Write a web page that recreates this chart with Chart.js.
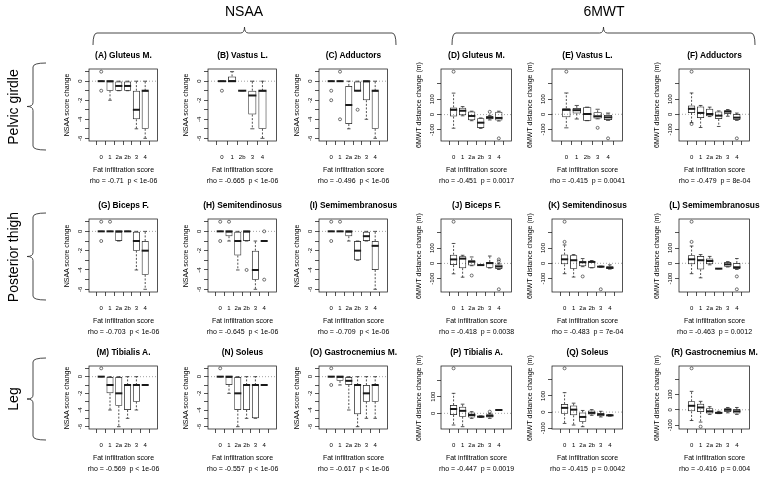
<!DOCTYPE html>
<html>
<head>
<meta charset="utf-8">
<title>Fat infiltration score vs NSAA / 6MWT change</title>
<script src="https://cdn.jsdelivr.net/npm/chart.js@4.4.1/dist/chart.umd.min.js"></script>
<style>
  body { margin: 0; background: #fff; }
  #fig { position: relative; width: 760px; height: 480px; overflow: hidden; background: #fff;
         font-family: "Liberation Sans", Arial, Helvetica, sans-serif; color: #000; }
  #fig canvas { position: absolute; }
  #decor { position: absolute; left: 0; top: 0; }
  .lbl { position: absolute; white-space: pre; line-height: 1; transform: translate(-50%, -50%); }
  .rot { transform: translate(-50%, -50%) rotate(-90deg); }
  .main { font-size: 8.4px; font-weight: bold; }
  .axt { font-size: 7px; }
  .head { font-size: 14px; }
</style>
</head>
<body>
<div id="fig">
  <svg id="decor" width="760" height="480"></svg>
</div>
<script>
var INK = '#1a1a1a';
var FONT = '"Liberation Sans", Arial, Helvetica, sans-serif';

// fat infiltration scores on the x axis
var scoresAll = ['0', '1', '2a', '2b', '3', '4'];
var scoresNo2a = ['0', '1', '2b', '3', '4'];

// each row is one score: [lower whisker, Q1, median, Q3, upper whisker]
// NSAA, pelvic girdle
var nsaaGluteus = [[0,0,0,0,0], [-2,-1,0,0,0], [-1,-1,-0.5,0,0], [-1,-1,-0.5,0,0], [-5,-4,-3,-1,0], [-6,-5,-1,-1,0]];
var nsaaGluteusOut = [[1,-1], [], [], [], [], []];
var nsaaVastus = [[0,0,0,0,0], [0,0,0,0.5,1], [-1,-1,-1,-1,-1], [-5,-3.5,-1.5,-1,0], [-6,-5,-1,-1,0]];
var nsaaVastusOut = [[-1], [], [], [], []];
var nsaaAdductors = [[0,0,0,0,0], [0,0,0,0,0], [-5,-4.5,-2.5,-0.5,0], [-1,-1,-1,0,0], [-4,-2,0,0,0], [-6,-5,-1,-1,0]];
var nsaaAdductorsOut = [[-1,-2], [1,-4], [], [-3], [], []];

// 6MWT, pelvic girdle
var mwtGluteus = [[-89,-13,31,47,140], [-8,-5,25,45,52], [-40,-37,-9,20,22], [-90,-87,-53,-24,-22], [-35,-31,-20,-9,-5], [-42,-38,-22,18,22]];
var mwtGluteusOut = [[280], [], [], [], [18], [-155]];
var mwtVastus = [[-89,-20,29,40,140], [-31,5,27,42,58], [-42,-42,2,47,47], [-30,-27,-13,13,33], [-40,-38,-20,-4,8]];
var mwtVastusOut = [[280], [], [], [-89], [-158]];
var mwtAdductors = [[-55,9,36,58,140], [-87,-24,9,51,58], [-15,-13,2,36,47], [-80,-31,-9,18,22], [-13,2,18,27,31], [-40,-38,-22,2,8]];
var mwtAdductorsOut = [[280,-64], [], [], [], [], [-158]];

// NSAA, posterior thigh
var nsaaBiceps = [[0,0,0,0,0], [0,0,0,0,0], [-1,-1,0,0,0], [0,0,0,0,0], [-4,-2,-1,0,0], [-6,-4.5,-2,-1,0]];
var nsaaBicepsOut = [[1,-1], [1], [], [], [], []];
var nsaaSemiten = [[0,0,0,0,0], [-1,-0.5,0,0,0], [-4,-2.5,-1,0,0], [-1,-1,0,0,0], [-6,-5,-4,-2,-1], [-1,-1,-1,-1,-1]];
var nsaaSemitenOut = [[1,-1], [1], [], [-4], [], [0,-5]];
var nsaaSemimem = [[0,0,0,0,0], [0,0,0,0,0], [-1,-0.5,0,0,0], [-3,-3,-2,-1,-1], [-1,-1,-0.5,0,0], [-6,-4,-1.5,-1,0]];
var nsaaSemimemOut = [[1,-1], [1], [], [], [], []];

// 6MWT, posterior thigh
var mwtBiceps = [[-68,-11,26,57,130], [-90,-31,31,46,53], [-15,-13,11,20,42], [-11,-11,-11,-11,-11], [-30,-29,2,9,48], [-40,-37,-20,-7,-2]];
var mwtBicepsOut = [[272], [], [-79], [], [], [26,13,-169]];
var mwtSemiten = [[-68,-7,26,57,120], [-90,-35,20,53,57], [-22,-20,7,13,31], [-30,-29,9,13,18], [-26,-26,-22,-18,-18], [-38,-37,-29,-20,-10]];
var mwtSemitenOut = [[272,140], [], [-86], [], [-170], []];
var mwtSemimem = [[-68,-7,26,53,113], [-95,-40,20,48,57], [-10,-7,15,31,45], [-35,-35,-35,-35,-35], [-24,-22,-7,9,11], [-40,-37,-26,2,31]];
var mwtSemimemOut = [[272,140], [], [], [], [], [-86,-170]];

// NSAA, leg
var nsaaTibialis = [[0,0,0,0,0], [-4,-2,-1,0,0], [-6,-3.5,-2,0,0], [-5,-4,-1,-1,0], [-4,-3,-1,-1,0], [-1,-1,-1,-1,-1]];
var nsaaTibialisOut = [[1], [], [], [], [], []];
var nsaaSoleus = [[0,0,0,0,0], [-2,-1,0,0,0], [-6,-4,-2,0,0], [-5,-4,-1,-1,0], [-5,-5,-1,-1,0], [-1,-1,-1,-1,-1]];
var nsaaSoleusOut = [[1], [], [], [], [], []];
var nsaaGastroc = [[0,0,0,0,0], [-1,-0.5,0,0,0], [-4,-1,-0.5,0,0], [-6,-4.5,-1,-1,0], [-5,-3,-2,-1,0], [-5,-3,-1,-1,0]];
var nsaaGastrocOut = [[1,-1], [], [], [], [], []];

// 6MWT, leg
var mwtTibialis = [[-70,-10,26,50,120], [-80,-20,15,40,55], [-30,-25,-10,5,10], [-25,-25,-20,-15,-15], [-30,-25,-15,-5,0], [20,20,20,20,20]];
var mwtTibialisOut = [[270], [], [], [], [10], []];
var mwtSoleus = [[-70,-10,26,50,120], [-80,-20,15,40,55], [-90,-60,-30,0,10], [-20,-15,-5,10,15], [-30,-25,-15,-5,5], [-25,-25,-20,-15,-15]];
var mwtSoleusOut = [[270], [], [], [], [], []];
var mwtGastroc = [[-70,-10,26,55,120], [-80,-15,15,40,55], [-30,-25,-10,10,20], [-25,-25,-20,-15,-10], [-20,-15,0,10,15], [-30,-25,-10,5,15]];
var mwtGastrocOut = [[270], [-110], [], [], [], []];

// panel table, row by row (A..R)
var panels = [
  {name: '(A) Gluteus M.', test: 'nsaa', cats: scoresAll, box: nsaaGluteus, out: nsaaGluteusOut, stats: 'rho = -0.71  p < 1e-06'},
  {name: '(B) Vastus L.', test: 'nsaa', cats: scoresNo2a, box: nsaaVastus, out: nsaaVastusOut, stats: 'rho = -0.665  p < 1e-06'},
  {name: '(C) Adductors', test: 'nsaa', cats: scoresAll, box: nsaaAdductors, out: nsaaAdductorsOut, stats: 'rho = -0.496  p < 1e-06'},
  {name: '(D) Gluteus M.', test: 'mwt', cats: scoresAll, box: mwtGluteus, out: mwtGluteusOut, stats: 'rho = -0.451  p = 0.0017'},
  {name: '(E) Vastus L.', test: 'mwt', cats: scoresNo2a, box: mwtVastus, out: mwtVastusOut, stats: 'rho = -0.415  p = 0.0041'},
  {name: '(F) Adductors', test: 'mwt', cats: scoresAll, box: mwtAdductors, out: mwtAdductorsOut, stats: 'rho = -0.479  p = 8e-04'},
  {name: '(G) Biceps F.', test: 'nsaa', cats: scoresAll, box: nsaaBiceps, out: nsaaBicepsOut, stats: 'rho = -0.703  p < 1e-06'},
  {name: '(H) Semitendinosus', test: 'nsaa', cats: scoresAll, box: nsaaSemiten, out: nsaaSemitenOut, stats: 'rho = -0.645  p < 1e-06'},
  {name: '(I) Semimembranosus', test: 'nsaa', cats: scoresAll, box: nsaaSemimem, out: nsaaSemimemOut, stats: 'rho = -0.709  p < 1e-06'},
  {name: '(J) Biceps F.', test: 'mwt', cats: scoresAll, box: mwtBiceps, out: mwtBicepsOut, stats: 'rho = -0.418  p = 0.0038'},
  {name: '(K) Semitendinosus', test: 'mwt', cats: scoresAll, box: mwtSemiten, out: mwtSemitenOut, stats: 'rho = -0.483  p = 7e-04'},
  {name: '(L) Semimembranosus', test: 'mwt', cats: scoresAll, box: mwtSemimem, out: mwtSemimemOut, stats: 'rho = -0.463  p = 0.0012'},
  {name: '(M) Tibialis A.', test: 'nsaa', cats: scoresAll, box: nsaaTibialis, out: nsaaTibialisOut, stats: 'rho = -0.569  p < 1e-06'},
  {name: '(N) Soleus', test: 'nsaa', cats: scoresAll, box: nsaaSoleus, out: nsaaSoleusOut, stats: 'rho = -0.557  p < 1e-06'},
  {name: '(O) Gastrocnemius M.', test: 'nsaa', cats: scoresAll, box: nsaaGastroc, out: nsaaGastrocOut, stats: 'rho = -0.617  p < 1e-06'},
  {name: '(P) Tibialis A.', test: 'mwt', cats: scoresAll, box: mwtTibialis, out: mwtTibialisOut, stats: 'rho = -0.447  p = 0.0019'},
  {name: '(Q) Soleus', test: 'mwt', cats: scoresAll, box: mwtSoleus, out: mwtSoleusOut, stats: 'rho = -0.415  p = 0.0042'},
  {name: '(R) Gastrocnemius M.', test: 'mwt', cats: scoresAll, box: mwtGastroc, out: mwtGastrocOut, stats: 'rho = -0.416  p = 0.004'}
];

var yTitles = {nsaa: 'NSAA score change', mwt: '6MWT distance change (m)'};

// page geometry (plot boxes)
var colLeft = [89, 208, 319, 441, 552, 679];
var colWidth = [69, 69, 69, 71, 71, 71];
var rowTop = [69, 219, 366];
var rowHeight = [72, 73, 63];
var AXIS_W = 22, XAXIS_H = 24, PAD_T = 10, PAD_R = 4;
var TICK_LEN = 4;

var fig = document.getElementById('fig');
var measureCtx = document.createElement('canvas').getContext('2d');

function addText(txt, x, y, cls) {
  var d = document.createElement('div');
  d.className = 'lbl ' + cls;
  d.textContent = txt;
  d.style.left = x + 'px';
  d.style.top = y + 'px';
  fig.appendChild(d);
}

// R style boxplot pieces drawn round the floating bars
var boxplotPlugin = {
  id: 'boxplot',
  beforeDatasetsDraw: function(chart) {
    var ctx = chart.ctx, a = chart.chartArea;
    var y0 = chart.scales.y.getPixelForValue(0);
    ctx.save();
    ctx.strokeStyle = '#8c8c8c';
    ctx.lineWidth = 0.8;
    ctx.setLineDash([1, 2]);
    ctx.beginPath();
    ctx.moveTo(a.left, y0);
    ctx.lineTo(a.right, y0);
    ctx.stroke();
    ctx.restore();
  },
  afterDatasetsDraw: function(chart) {
    var ctx = chart.ctx, a = chart.chartArea, ys = chart.scales.y;
    var ds = chart.data.datasets[1];
    var meta = chart.getDatasetMeta(1);

    function seg(x1, y1, x2, y2) {
      ctx.beginPath();
      ctx.moveTo(x1, y1);
      ctx.lineTo(x2, y2);
      ctx.stroke();
    }

    ctx.save();
    ctx.strokeStyle = INK;
    meta.data.forEach(function(bar, i) {
      var b = ds.stats[i];
      var half = bar.width / 2, cap = bar.width / 4;
      var yLo = ys.getPixelForValue(b[0]), yQ1 = ys.getPixelForValue(b[1]);
      var yMed = ys.getPixelForValue(b[2]);
      var yQ3 = ys.getPixelForValue(b[3]), yHi = ys.getPixelForValue(b[4]);

      // dashed whiskers, solid staples
      ctx.lineWidth = 0.75;
      ctx.setLineDash([2, 1.6]);
      if (b[0] < b[1]) seg(bar.x, yQ1, bar.x, yLo);
      if (b[4] > b[3]) seg(bar.x, yQ3, bar.x, yHi);
      ctx.setLineDash([]);
      seg(bar.x - cap, yLo, bar.x + cap, yLo);
      seg(bar.x - cap, yHi, bar.x + cap, yHi);

      // thick median
      ctx.lineWidth = 2;
      seg(bar.x - half, yMed, bar.x + half, yMed);
    });
    // frame round the plot region
    ctx.lineWidth = 0.75;
    ctx.strokeRect(a.left, a.top, a.right - a.left, a.bottom - a.top);
    ctx.restore();
  }
};

function buildPanel(p, idx) {
  var row = Math.floor(idx / 6), col = idx % 6;
  var left = colLeft[col], top = rowTop[row], w = colWidth[col], h = rowHeight[row];
  var n = p.cats.length;

  var canvas = document.createElement('canvas');
  canvas.width = AXIS_W + w + PAD_R;
  canvas.height = PAD_T + h + XAXIS_H;
  canvas.style.left = (left - AXIS_W) + 'px';
  canvas.style.top = (top - PAD_T) + 'px';
  fig.appendChild(canvas);

  var boxPts = p.box.map(function(b, i) { return {x: i + 1, y: [b[1], b[3]]}; });
  var outPts = [];
  p.out.forEach(function(vals, i) {
    vals.forEach(function(v) { outPts.push({x: i + 1, y: v}); });
  });

  // R default: data range widened by 4 %
  var all = [];
  p.box.forEach(function(b) { all = all.concat(b); });
  p.out.forEach(function(o) { all = all.concat(o); });
  var lo = Math.min.apply(null, all), hi = Math.max.apply(null, all);
  var pad = (hi - lo) * 0.04;

  var isNsaa = p.test === 'nsaa';
  var step = isNsaa ? 1 : 100;
  var yLabels = isNsaa ? ['0', '-2', '-4', '-6'] : ['-100', '0', '100'];
  var tickFont = {family: FONT, size: 6};
  measureCtx.font = '6px ' + FONT;
  var widest = Math.max.apply(null, yLabels.map(function(t) { return measureCtx.measureText(t).width; }));

  new Chart(canvas.getContext('2d'), {
    type: 'bar',
    data: {
      datasets: [{
        type: 'line',
        data: outPts,
        showLine: false,
        clip: false,
        pointRadius: 1.5,
        pointBorderWidth: 0.6,
        pointBorderColor: INK,
        pointBackgroundColor: 'rgba(0,0,0,0)'
      }, {
        type: 'bar',
        data: boxPts,
        stats: p.box,
        grouped: false,
        backgroundColor: 'rgba(0,0,0,0)',
        borderColor: INK,
        borderWidth: 0.75,
        borderSkipped: false,
        barPercentage: 0.8,
        categoryPercentage: 1
      }]
    },
    options: {
      responsive: false,
      animation: false,
      devicePixelRatio: 1,
      events: [],
      layout: {padding: {top: PAD_T, right: PAD_R, left: 0, bottom: 0}},
      plugins: {legend: {display: false}, tooltip: {enabled: false}},
      scales: {
        x: {
          type: 'linear',
          min: 0.5 - 0.04 * n,
          max: n + 0.5 + 0.04 * n,
          bounds: 'data',
          border: {display: false},
          grid: {drawOnChartArea: false, tickLength: TICK_LEN, color: INK, lineWidth: 0.75},
          ticks: {
            autoSkip: false, maxRotation: 0,
            padding: 8.4, font: tickFont, color: '#000',
            callback: function(v) { return p.cats[v - 1] || ''; }
          },
          afterBuildTicks: function(s) {
            s.ticks = p.cats.map(function(c, i) { return {value: i + 1}; });
          },
          afterFit: function(s) { s.height = XAXIS_H; }
        },
        y: {
          min: lo - pad,
          max: hi + pad,
          bounds: 'data',
          border: {display: false},
          grid: {drawOnChartArea: false, tickLength: TICK_LEN, color: INK, lineWidth: 0.75},
          ticks: {
            autoSkip: false,
            minRotation: 90, maxRotation: 90, crossAlign: 'center',
            padding: 8.5 - TICK_LEN - widest / 2, font: tickFont, color: '#000',
            callback: function(v) {
              if (isNsaa) return (v % 2 === 0) ? String(v) : '';
              return v === 200 ? '' : String(v);
            }
          },
          // R style axis: a tick at every whole step inside the range
          afterBuildTicks: function(s) {
            var t = [];
            for (var v = Math.ceil(s.min / step) * step; v <= s.max; v += step) t.push({value: v});
            s.ticks = t;
          },
          afterFit: function(s) { s.width = AXIS_W; }
        }
      }
    },
    plugins: [boxplotPlugin]
  });

  var cx = left + w / 2, bottom = top + h;
  addText(p.name, cx, top - 14, 'main');
  addText(yTitles[p.test], left - 23.5, top + h / 2, 'axt rot');
  addText('Fat infiltration score', cx, bottom + 28, 'axt');
  addText(p.stats, cx, bottom + 39, 'axt');
}

panels.forEach(buildPanel);

// group headers and curly braces
var svg = document.getElementById('decor');
var NS = 'http://www.w3.org/2000/svg';

function bracePath(d) {
  var el = document.createElementNS(NS, 'path');
  el.setAttribute('d', d);
  el.setAttribute('fill', 'none');
  el.setAttribute('stroke', '#333');
  el.setAttribute('stroke-width', '0.9');
  svg.appendChild(el);
}

function hBrace(x1, x2, yEnd, yBar, yTip) {
  var xm = (x1 + x2) / 2, r = 4;
  bracePath('M' + x1 + ',' + yEnd + ' Q' + x1 + ',' + yBar + ' ' + (x1 + r) + ',' + yBar +
    ' L' + (xm - r) + ',' + yBar + ' Q' + xm + ',' + yBar + ' ' + xm + ',' + yTip +
    ' Q' + xm + ',' + yBar + ' ' + (xm + r) + ',' + yBar +
    ' L' + (x2 - r) + ',' + yBar + ' Q' + x2 + ',' + yBar + ' ' + x2 + ',' + yEnd);
}

function vBrace(y1, y2, xEnd, xBar, xTip) {
  var ym = (y1 + y2) / 2, r = 4;
  bracePath('M' + xEnd + ',' + y1 + ' Q' + xBar + ',' + y1 + ' ' + xBar + ',' + (y1 + r) +
    ' L' + xBar + ',' + (ym - r) + ' Q' + xBar + ',' + ym + ' ' + xTip + ',' + ym +
    ' Q' + xBar + ',' + ym + ' ' + xBar + ',' + (ym + r) +
    ' L' + xBar + ',' + (y2 - r) + ' Q' + xBar + ',' + y2 + ' ' + xEnd + ',' + y2);
}

addText('NSAA', 244, 11, 'head');
addText('6MWT', 604, 11, 'head');
hBrace(93, 396, 45, 33, 27);
hBrace(452, 755, 45, 33, 27);

var groups = ['Pelvic girdle', 'Posterior thigh', 'Leg'];
var groupSpan = [[63, 150], [213, 300], [358, 440]];
groups.forEach(function(g, i) {
  var s = groupSpan[i];
  addText(g, 13, (s[0] + s[1]) / 2, 'head rot');
  vBrace(s[0], s[1], 46, 33, 27);
});
</script>
</body>
</html>
